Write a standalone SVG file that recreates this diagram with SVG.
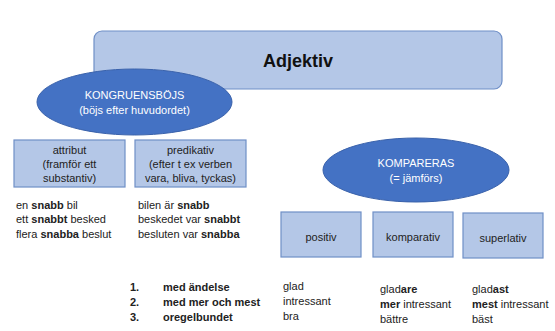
<svg xmlns="http://www.w3.org/2000/svg" width="555" height="331" viewBox="0 0 555 331">
<style>
.box{fill:#b4c7e7;stroke:#6f8fc7;stroke-width:1.2}
.ell{fill:#4472c4;stroke:#3a62ab;stroke-width:1}
text{font-family:"Liberation Sans","Noto Sans",sans-serif;font-size:11px;fill:#222}
.c{text-anchor:middle}
.w{fill:#fff}
.b{font-weight:bold}
</style>
<rect width="555" height="331" fill="#fff"/>
<g id="adjektiv">
<rect class="box" x="94" y="31" width="408" height="58" rx="8"/>
<text class="c b" x="298" y="67" style="font-size:18px;fill:#111">Adjektiv</text>
</g>
<g id="kongruensbojs">
<ellipse class="ell" cx="134.5" cy="102" rx="97.5" ry="33"/>
<text class="c w" x="134.5" y="99">KONGRUENSBÖJS</text>
<text class="c w" x="134.5" y="114">(böjs efter huvudordet)</text>
</g>
<g id="attribut">
<rect class="box" x="14" y="140" width="111" height="47"/>
<text class="c" x="69.5" y="154">attribut</text>
<text class="c" x="69.5" y="168">(framför ett</text>
<text class="c" x="69.5" y="182">substantiv)</text>
</g>
<g id="predikativ">
<rect class="box" x="135" y="140" width="111" height="47"/>
<text class="c" x="190.5" y="154">predikativ</text>
<text class="c" x="190.5" y="168">(efter t ex verben</text>
<text class="c" x="190.5" y="182">vara, bliva, tyckas)</text>
</g>
<g id="attribut-exempel">
<text x="16" y="209">en <tspan class="b">snabb</tspan> bil</text>
<text x="16" y="223">ett <tspan class="b">snabbt</tspan> besked</text>
<text x="16" y="238">flera <tspan class="b">snabba</tspan> beslut</text>
</g>
<g id="predikativ-exempel">
<text x="138" y="209">bilen är <tspan class="b">snabb</tspan></text>
<text x="138" y="223">beskedet var <tspan class="b">snabbt</tspan></text>
<text x="138" y="238">besluten var <tspan class="b">snabba</tspan></text>
</g>
<g id="kompareras">
<ellipse class="ell" cx="416" cy="170" rx="93" ry="32"/>
<text class="c w" x="416" y="167">KOMPARERAS</text>
<text class="c w" x="416" y="182">(= jämförs)</text>
</g>
<g id="positiv">
<rect class="box" x="281" y="212" width="80" height="45"/>
<text class="c" x="321" y="241">positiv</text>
</g>
<g id="komparativ">
<rect class="box" x="373" y="212" width="80" height="45"/>
<text class="c" x="413" y="241">komparativ</text>
</g>
<g id="superlativ">
<rect class="box" x="463" y="213" width="80" height="45"/>
<text class="c" x="503" y="242">superlativ</text>
</g>
<g id="lista">
<text class="b" x="130" y="291">1.</text>
<text class="b" x="130" y="306">2.</text>
<text class="b" x="130" y="321">3.</text>
<text class="b" x="163" y="291">med ändelse</text>
<text class="b" x="163" y="306">med mer och mest</text>
<text class="b" x="163" y="321">oregelbundet</text>
</g>
<g id="positiv-exempel">
<text x="283" y="290">glad</text>
<text x="283" y="305">intressant</text>
<text x="283" y="320">bra</text>
</g>
<g id="komparativ-exempel">
<text x="380" y="293">glad<tspan class="b">are</tspan></text>
<text x="380" y="308"><tspan class="b">mer</tspan> intressant</text>
<text x="380" y="323">bättre</text>
</g>
<g id="superlativ-exempel">
<text x="472" y="293">glad<tspan class="b">ast</tspan></text>
<text x="472" y="308"><tspan class="b">mest</tspan> intressant</text>
<text x="472" y="323">bäst</text>
</g>
</svg>
